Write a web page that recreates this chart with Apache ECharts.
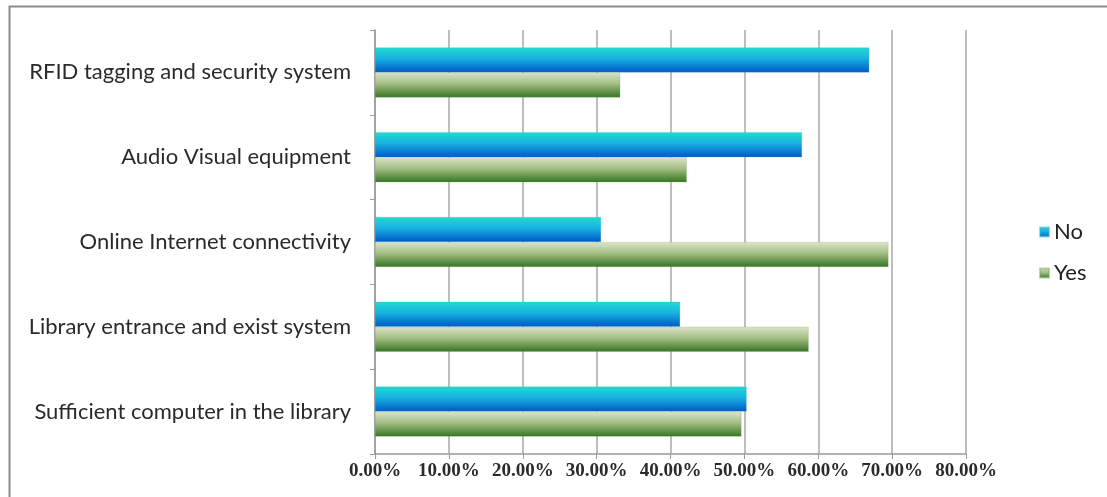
<!DOCTYPE html>
<html>
<head>
<meta charset="utf-8">
<script src="https://cdn.jsdelivr.net/npm/echarts@6/dist/echarts.min.js"></script>
<style>
  html, body { margin: 0; padding: 0; background: #fff; }
  #chart { width: 1107px; height: 497px; }
</style>
</head>
<body>
<div id="chart"></div>
<script>
// Facilities survey: share of "No" and "Yes" answers per item (percent)
const categories = [
  'Sufficient computer in the library',
  'Library entrance and exist system',
  'Online Internet connectivity',
  'Audio Visual equipment',
  'RFID tagging and security system'
];
const noValues  = [50.3, 41.3, 30.6, 57.8, 66.9];
const yesValues = [49.6, 58.7, 69.5, 42.2, 33.2];
const xTicks = [0, 10, 20, 30, 40, 50, 60, 70, 80];

const grad = (stops) => new echarts.graphic.LinearGradient(0, 0, 0, 1,
  stops.map(([offset, color]) => ({ offset, color })));

const noFill = grad([[0, '#22dccb'], [0.45, '#17b0e2'], [1, '#0058c4']]);
const yesFill = grad([[0, '#dde4cb'], [0.45, '#a3bf83'], [1, '#357423']]);

const chart = echarts.init(document.getElementById('chart'), null, { renderer: 'canvas' });

chart.setOption({
  animation: false,
  backgroundColor: '#ffffff',
  graphic: [{
    type: 'rect',
    left: 7, top: 4,
    shape: { width: 1120, height: 520 },
    style: { fill: 'none', stroke: '#8c8c8c', lineWidth: 2 },
    z: -1
  }],
  grid: { left: 375, right: 141, top: 30, bottom: 43, containLabel: false },
  legend: {
    orient: 'vertical',
    left: 1034,
    top: 216,
    itemGap: 19,
    itemWidth: 9,
    itemHeight: 9,
    icon: 'rect',
    data: ['No', 'Yes'],
    textStyle: { fontFamily: 'Lato', fontSize: 22, color: '#222' }
  },
  xAxis: {
    type: 'value',
    min: 0, max: 80, interval: 10,
    axisLine: { show: true, lineStyle: { color: '#9a9a9a', width: 1.5 } },
    axisTick: { show: true, length: 5, lineStyle: { color: '#9a9a9a' } },
    splitLine: { show: true, lineStyle: { color: '#a8a8a8', width: 1.5 } },
    axisLabel: {
      margin: 8,
      formatter: (v) => xTicks.includes(v) ? v.toFixed(2) + '%' : '',
      fontFamily: 'Liberation Serif', fontWeight: 'bold', fontSize: 19, color: '#2a2a2a'
    }
  },
  yAxis: {
    type: 'category',
    data: categories,
    axisLine: { show: true, lineStyle: { color: '#9a9a9a', width: 1.5 } },
    axisTick: { show: true, length: 5, lineStyle: { color: '#9a9a9a' } },
    axisLabel: {
      margin: 24,
      fontFamily: 'Lato', fontSize: 22, color: '#2a2a2a'
    }
  },
  series: [
    {
      name: 'No', type: 'bar', data: noValues,
      barWidth: 25, barGap: '0%',
      itemStyle: { color: noFill, borderColor: 'rgba(40,180,220,0.5)', borderWidth: 0.5 }
    },
    {
      name: 'Yes', type: 'bar', data: yesValues,
      barWidth: 25, barGap: '0%',
      itemStyle: { color: yesFill, borderColor: 'rgba(120,170,90,0.5)', borderWidth: 0.5 }
    }
  ]
});
</script>
</body>
</html>
